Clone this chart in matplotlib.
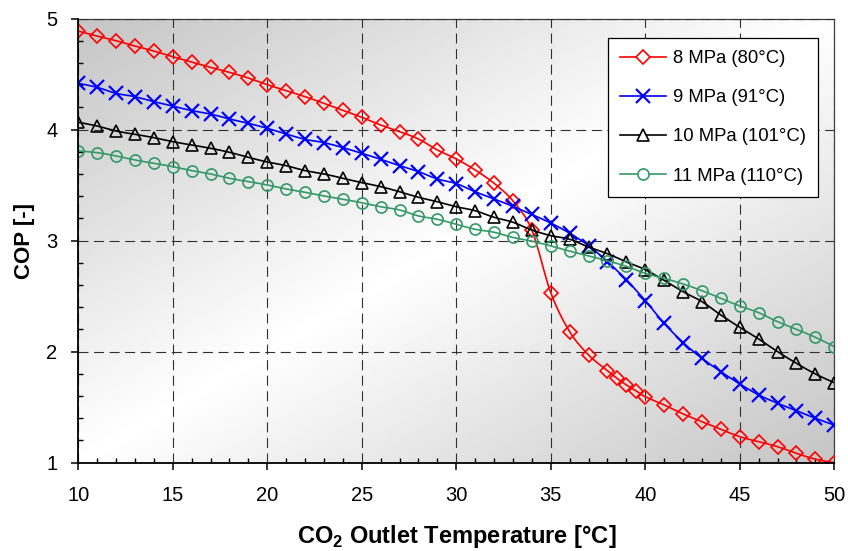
import numpy as np
import matplotlib
matplotlib.use("Agg")
import matplotlib.pyplot as plt
from matplotlib.path import Path
from matplotlib.patches import PathPatch
from matplotlib.lines import Line2D
from matplotlib.ticker import MultipleLocator

plt.rcParams['font.family'] = ['Liberation Sans', 'DejaVu Sans']
plt.rcParams['mathtext.fontset'] = 'custom'
plt.rcParams['mathtext.rm'] = 'Liberation Sans'
plt.rcParams['mathtext.bf'] = 'Liberation Sans:bold'

# Gas-cooler outlet temperature [°C]
temps = list(range(10, 51))
temps_8mpa = list(range(10, 38)) + [38, 38.5, 39, 39.5, 40] + list(range(41, 51))

cop_8mpa = [4.887, 4.842, 4.800, 4.752, 4.707, 4.656, 4.608, 4.560, 4.515, 4.464,
            4.404, 4.350, 4.296, 4.236, 4.173, 4.110, 4.041, 3.981, 3.915, 3.816,
            3.735, 3.636, 3.516, 3.357, 3.095, 2.531, 2.180, 1.970,
            1.828, 1.760, 1.700, 1.648, 1.594,
            1.520, 1.439, 1.369, 1.301, 1.234, 1.189, 1.144, 1.085, 1.031, 1.000]
cop_9mpa = [4.416, 4.380, 4.326, 4.296, 4.251, 4.212, 4.170, 4.140, 4.095, 4.056,
            4.011, 3.960, 3.912, 3.882, 3.837, 3.786, 3.732, 3.675, 3.621, 3.555,
            3.513, 3.440, 3.375, 3.308, 3.235, 3.158, 3.066, 2.955, 2.810, 2.647,
            2.459, 2.255, 2.081, 1.940, 1.820, 1.709, 1.610, 1.535, 1.468, 1.400,
            1.339]
cop_10mpa = [4.065, 4.032, 3.987, 3.957, 3.927, 3.891, 3.861, 3.831, 3.795, 3.750,
             3.708, 3.675, 3.630, 3.600, 3.561, 3.522, 3.486, 3.440, 3.390, 3.350,
             3.305, 3.269, 3.210, 3.165, 3.095, 3.045, 3.012, 2.942, 2.882, 2.808,
             2.738, 2.642, 2.540, 2.450, 2.330, 2.219, 2.114, 2.000, 1.895, 1.799,
             1.720]
cop_11mpa = [3.807, 3.792, 3.762, 3.726, 3.696, 3.666, 3.630, 3.600, 3.561, 3.531,
             3.501, 3.465, 3.435, 3.402, 3.372, 3.341, 3.305, 3.276, 3.222, 3.192,
             3.147, 3.102, 3.075, 3.028, 2.995, 2.952, 2.905, 2.862, 2.818, 2.768,
             2.705, 2.660, 2.609, 2.549, 2.480, 2.411, 2.351, 2.270, 2.201, 2.129,
             2.045]

labels = ['8 MPa (80°C)', '9 MPa (91°C)', '10 MPa (101°C)', '11 MPa (110°C)']
colors = ['#ff0000', '#0000ff', '#000000', '#339966']
markers = ['D', 'x', '^', 'o']
msizes = [7.5, 9.5, 9, 8]


def smooth_path(xs, ys):
    """Cubic Bezier path through the points (Catmull-Rom style smoothing)."""
    pts = np.column_stack([xs, ys]).astype(float)
    n = len(pts)
    verts = [pts[0]]
    codes = [Path.MOVETO]
    for i in range(n - 1):
        p0 = pts[i - 1] if i > 0 else pts[i]
        p1 = pts[i]
        p2 = pts[i + 1]
        p3 = pts[i + 2] if i + 2 < n else pts[i + 1]
        c1 = p1 + (p2 - p0) / 6.0
        c2 = p2 - (p3 - p1) / 6.0
        verts += [c1, c2, p2]
        codes += [Path.CURVE4] * 3
    return Path(verts, codes)


fig = plt.figure(figsize=(8.48, 5.51), dpi=100)
ax = fig.add_axes([0.0923, 0.1603, 0.8915, 0.8061])

# diagonal grey-white-grey gradient behind the plot area
gx = np.linspace(0, 1, 400)
gy = np.linspace(0, 1, 300)
GX, GY = np.meshgrid(gx, gy)
shade = 1.0 - 0.23 * np.abs(GX + GY - 1.0)
ax.imshow(shade, extent=(0, 1, 0, 1), transform=ax.transAxes, cmap='gray',
          vmin=0, vmax=1, aspect='auto', zorder=0, interpolation='bilinear')

series = [(temps_8mpa, cop_8mpa), (temps, cop_9mpa), (temps, cop_10mpa), (temps, cop_11mpa)]
handles = []
for k, (xs, ys) in enumerate(series):
    z = 3 + k
    ax.add_patch(PathPatch(smooth_path(xs, ys), facecolor='none', edgecolor=colors[k],
                           lw=1.2, zorder=z))
    mew = 1.6 if markers[k] == 'x' else 1.2
    ax.plot(xs, ys, ls='none', marker=markers[k], ms=msizes[k], mfc='none',
            mec=colors[k], mew=mew, zorder=z)
    handles.append(Line2D([], [], color=colors[k], lw=1.2, marker=markers[k],
                          ms=msizes[k], mfc='white', mec=colors[k], mew=mew))

ax.set_xlim(10, 50)
ax.set_ylim(1, 5)
ax.xaxis.set_major_locator(MultipleLocator(5))
ax.xaxis.set_minor_locator(MultipleLocator(1))
ax.yaxis.set_major_locator(MultipleLocator(1))
ax.yaxis.set_minor_locator(MultipleLocator(0.2))

ax.grid(True, which='major', color='#303030', lw=0.8, ls=(0, (9, 5)), zorder=1)
ax.set_axisbelow(False)
for gl in ax.get_xgridlines() + ax.get_ygridlines():
    gl.set_zorder(1)

ax.tick_params(which='major', direction='out', length=5, width=1.1, labelsize=14.5,
               color='black')
ax.tick_params(axis='x', which='major', pad=12)
ax.tick_params(axis='y', which='major', pad=10)
ax.tick_params(which='minor', direction='in', length=3.5, width=1.0, color='black')

for side in ['left', 'bottom']:
    ax.spines[side].set_linewidth(1.3)
    ax.spines[side].set_color('black')
    ax.spines[side].set_zorder(10)
for side in ['top', 'right']:
    ax.spines[side].set_linewidth(0.9)
    ax.spines[side].set_color('#404040')

ax.set_xlabel(r'CO$_\mathbf{2}$ Outlet Temperature [°C]', fontsize=17,
              fontweight='bold', labelpad=13)
ax.set_ylabel('COP [-]', fontsize=16, fontweight='bold', labelpad=8)

leg = ax.legend(handles, labels, loc='upper right', bbox_to_anchor=(0.978, 0.956),
                borderaxespad=0, fontsize=13.3, frameon=True, fancybox=False,
                framealpha=1, edgecolor='black', handlelength=2.5,
                handletextpad=0.35, labelspacing=1.2, borderpad=0.65)
leg.get_frame().set_linewidth(0.9)
leg.set_zorder(20)

fig.savefig('out.png', dpi=100)
